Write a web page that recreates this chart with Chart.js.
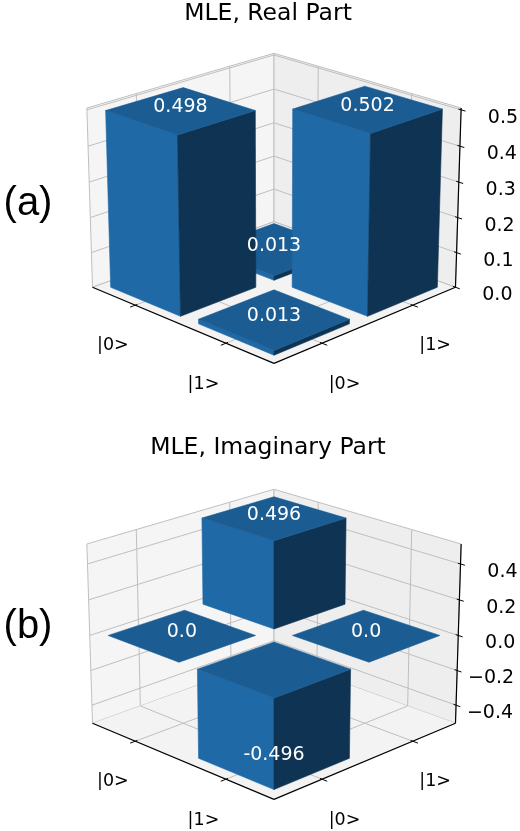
<!DOCTYPE html>
<html lang="en">
<head>
  <meta charset="UTF-8">
  <title>MLE density matrix</title>
  <script src="https://cdn.jsdelivr.net/npm/chart.js"></script>
  <style>
    html, body { margin: 0; padding: 0; background: #fff; }
    body { width: 520px; height: 831px; overflow: hidden; }
    canvas { display: block; }
  </style>
</head>
<body>
  <canvas id="realChart" width="520" height="416"></canvas>
  <canvas id="imagChart" width="520" height="415"></canvas>

<script>
  // basis states on both floor axes
  const basis = ['|0>', '|1>'];
  // each bar: row (left floor axis) and column (right floor axis)
  const rowIdx = [0, 0, 1, 1];
  const colIdx = [0, 1, 0, 1];
  const realValues = [0.498, 0.013, 0.013, 0.502];
  const imagValues = [0.0, 0.496, -0.496, 0.0];
  // vertical axis
  const realTicks = [0.0, 0.1, 0.2, 0.3, 0.4, 0.5];
  const imagTicks = [-0.4, -0.2, 0.0, 0.2, 0.4];
  const realZRange = [0, 0.505];
  const imagZRange = [-0.505, 0.51];
  const cellRange = [-0.5, 1.5];
  const barWidth = 0.8;

  // view: elevation, camera distance, half sizes of the 4:4:3 box
  const ELEV = 21 * Math.PI / 180;
  const DIST = 10;
  const HX = 0.5715, HZ = 0.4285;
  const CX = 274, SX = 228, SY = 224;

  const FACE_TOP = '#1b5c93';
  const FACE_LEFT = '#1f69a6';
  const FACE_RIGHT = '#0f3453';
  const PANE_LEFT = '#f5f5f5', PANE_RIGHT = '#eeeeee', PANE_FLOOR = '#f3f3f3';
  const GRID = '#bfbfbf';
  const FONT = '"DejaVu Sans", sans-serif';
  const TITLE_SIZE = 23.5;

  function fmtTick(v) {
    return v.toFixed(1).replace('-', '\u2212');
  }

  // 3D box -> 2D view plane (perspective), result goes through the chart scales
  function makeView(zRange) {
    const sinE = Math.sin(ELEV), cosE = Math.cos(ELEV);
    const wx = v => -HX + (v - cellRange[0]) / (cellRange[1] - cellRange[0]) * 2 * HX;
    const wz = v => -HZ + (v - zRange[0]) / (zRange[1] - zRange[0]) * 2 * HZ;
    function proj(X, Y, Z) {
      const s = (X + Y) / Math.SQRT2, d = (X - Y) / Math.SQRT2;
      const up = -sinE * d + cosE * Z;
      const depth = cosE * d + sinE * Z;
      const f = DIST / (DIST - depth);
      return { u: s * f, v: up * f, depth: depth };
    }
    return { wx, wz, proj };
  }

  const bar3dPlugin = {
    id: 'bar3d',
    afterDatasetsDraw(chart) {
      const cfg = chart.options.plugins.bar3d;
      const ctx = chart.ctx;
      const xs = chart.scales.x, ys = chart.scales.y;
      const view = makeView(cfg.zRange);
      const P = (X, Y, Z) => {
        const p = view.proj(X, Y, Z);
        return [xs.getPixelForValue(p.u), ys.getPixelForValue(p.v)];
      };
      const poly = (pts, fill, stroke, lw) => {
        ctx.beginPath();
        pts.forEach((q, i) => {
          const p = P(q[0], q[1], q[2]);
          if (i === 0) ctx.moveTo(p[0], p[1]); else ctx.lineTo(p[0], p[1]);
        });
        ctx.closePath();
        if (fill) { ctx.fillStyle = fill; ctx.fill(); }
        if (stroke) { ctx.strokeStyle = stroke; ctx.lineWidth = lw || 1; ctx.stroke(); }
      };
      const line = (a, b, color, lw) => {
        const p = P(a[0], a[1], a[2]), q = P(b[0], b[1], b[2]);
        ctx.beginPath();
        ctx.moveTo(p[0], p[1]);
        ctx.lineTo(q[0], q[1]);
        ctx.strokeStyle = color;
        ctx.lineWidth = lw;
        ctx.stroke();
      };
      const H = HX, Z0 = -HZ, Z1 = HZ;
      ctx.save();

      // panes
      poly([[-H, -H, Z0], [-H, H, Z0], [-H, H, Z1], [-H, -H, Z1]], PANE_LEFT, GRID, 1);
      poly([[-H, H, Z0], [H, H, Z0], [H, H, Z1], [-H, H, Z1]], PANE_RIGHT, GRID, 1);
      poly([[-H, -H, Z0], [H, -H, Z0], [H, H, Z0], [-H, H, Z0]], PANE_FLOOR, null);

      // grid
      const cellTicks = basis.map((b, i) => view.wx(i));
      const zTicks = cfg.ticks.map(t => view.wz(t));
      cellTicks.forEach(t => {
        line([t, -H, Z0], [t, H, Z0], GRID, 1);
        line([-H, t, Z0], [H, t, Z0], GRID, 1);
        line([-H, t, Z0], [-H, t, Z1], GRID, 1);
        line([t, H, Z0], [t, H, Z1], GRID, 1);
      });
      zTicks.forEach(z => {
        line([-H, -H, z], [-H, H, z], GRID, 1);
        line([-H, H, z], [H, H, z], GRID, 1);
      });

      // axis lines and ticks
      line([-H, -H, Z0], [H, -H, Z0], '#000', 1.2);
      line([H, -H, Z0], [H, H, Z0], '#000', 1.2);
      line([H, H, Z0], [H, H, Z1], '#000', 1.2);
      cellTicks.forEach(t => {
        line([t, -H + 0.012, Z0], [t, -H - 0.03, Z0], '#000', 1);
        line([H - 0.012, t, Z0], [H + 0.03, t, Z0], '#000', 1);
      });
      zTicks.forEach(z => line([H - 0.015, H, z], [H + 0.025, H, z], '#000', 1));

      // bars, far ones first
      const bars = cfg.values.map((val, i) => {
        const a = rowIdx[i], b = colIdx[i];
        const x0 = view.wx(a - barWidth / 2), x1 = view.wx(a + barWidth / 2);
        const y0 = view.wx(b - barWidth / 2), y1 = view.wx(b + barWidth / 2);
        const zb = view.wz(0), zv = view.wz(val);
        const c = view.proj(view.wx(a), view.wx(b), 0);
        return { val, a, b, x0, x1, y0, y1, zlo: Math.min(zb, zv), zhi: Math.max(zb, zv), zv, depth: c.depth };
      }).sort((p, q) => p.depth - q.depth);

      bars.forEach(r => {
        if (r.zhi - r.zlo > 1e-6) {
          poly([[r.x0, r.y0, r.zlo], [r.x1, r.y0, r.zlo], [r.x1, r.y0, r.zhi], [r.x0, r.y0, r.zhi]], FACE_LEFT, FACE_LEFT, 0.6);
          poly([[r.x1, r.y0, r.zlo], [r.x1, r.y1, r.zlo], [r.x1, r.y1, r.zhi], [r.x1, r.y0, r.zhi]], FACE_RIGHT, FACE_RIGHT, 0.6);
        }
        poly([[r.x0, r.y0, r.zhi], [r.x1, r.y0, r.zhi], [r.x1, r.y1, r.zhi], [r.x0, r.y1, r.zhi]], FACE_TOP, FACE_TOP, 0.6);
      });

      // value labels
      ctx.font = '19px ' + FONT;
      ctx.fillStyle = '#ffffff';
      ctx.textAlign = 'center';
      ctx.textBaseline = 'middle';
      bars.forEach(r => {
        const p = P(view.wx(r.a), view.wx(r.b), r.zv);
        ctx.fillText(String(r.val.toFixed(r.val === 0 ? 1 : 3)), p[0], p[1] - 3);
      });

      // tick labels
      ctx.font = '17.5px ' + FONT;
      ctx.fillStyle = '#000';
      ctx.textAlign = 'center';
      basis.forEach((lab, i) => {
        const t = view.wx(i);
        let p = P(t, -H - 0.13, Z0);
        ctx.fillText(lab, p[0], p[1] + 32);
        p = P(H + 0.13, t, Z0);
        ctx.fillText(lab, p[0], p[1] + 32);
      });
      ctx.font = '19px ' + FONT;
      ctx.textAlign = 'right';
      cfg.ticks.forEach(t => {
        const p = P(H, H, view.wz(t));
        ctx.fillText(fmtTick(t), p[0] + 57, p[1] + 8);
      });

      // panel letter
      ctx.font = '40px "Liberation Sans", sans-serif';
      ctx.textAlign = 'center';
      ctx.fillText(cfg.letter, 28, cfg.letterY);
      ctx.restore();
    }
  };

  function makeChart(id, title, values, ticks, zRange, letter, frame) {
    const canvas = document.getElementById(id);
    const H = canvas.height;
    const lineH = TITLE_SIZE * 1.2;
    const areaTop = frame.titleTop + lineH;
    return new Chart(canvas.getContext('2d'), {
      type: 'scatter',
      data: { datasets: [] },
      options: {
        responsive: false,
        animation: false,
        layout: { padding: { left: 16, right: 0, top: 0, bottom: 0 } },
        scales: {
          x: { display: false, min: (16 - CX) / SX, max: (canvas.width - CX) / SX },
          y: { display: false, min: (frame.cy - H) / SY, max: (frame.cy - areaTop) / SY }
        },
        plugins: {
          legend: { display: false },
          tooltip: { enabled: false },
          title: {
            display: true,
            text: title,
            color: '#000',
            font: { family: FONT, size: TITLE_SIZE, weight: 'normal', lineHeight: 1.2 },
            padding: { top: frame.titleTop, bottom: 0 }
          },
          bar3d: { values, ticks, zRange, letter, letterY: frame.letterY }
        }
      },
      plugins: [bar3dPlugin]
    });
  }

  makeChart('realChart', 'MLE, Real Part', realValues, realTicks, realZRange, '(a)',
    { cy: 199, titleTop: 0, letterY: 204 });
  makeChart('imagChart', 'MLE, Imaginary Part', imagValues, imagTicks, imagZRange, '(b)',
    { cy: 219, titleTop: 18, letterY: 211 });
</script>
</body>
</html>
